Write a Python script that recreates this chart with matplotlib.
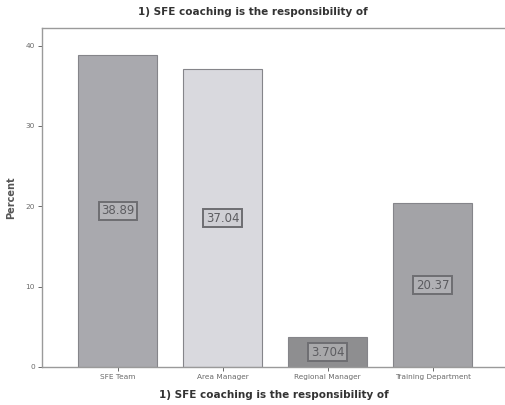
import matplotlib.pyplot as plt

categories = ["SFE Team", "Area Manager", "Regional Manager", "Training Department"]
percent = [38.89, 37.04, 3.704, 20.37]
labels = ["38.89", "37.04", "3.704", "20.37"]
bar_colors = ["#a9a9ae", "#d9d9de", "#8e8e90", "#a3a3a7"]
box_colors = ["#b4b4b8", "#cfcfd4", "#a8a8aa", "#b0b0b4"]

fig = plt.figure(figsize=(5.06, 4.05), dpi=100)
ax = fig.add_axes([0.083, 0.094, 0.915, 0.837])

x = range(len(categories))
ax.bar(x, percent, width=0.76, color=bar_colors, edgecolor="#85858a", linewidth=0.8, zorder=2)

for xi, v, lab, bc in zip(x, percent, labels, box_colors):
    ax.text(xi, v / 2, lab, ha="center", va="center", fontsize=8.5, color="#5c5c60",
            bbox=dict(boxstyle="square,pad=0.2", facecolor=bc, edgecolor="#6e6e72", linewidth=1.4),
            zorder=3)

ax.set_xlim(-0.72, 3.69)
ax.set_ylim(0, 42.2)
ax.set_yticks([0, 10, 20, 30, 40])
ax.set_xticks(list(x))
ax.set_xticklabels(categories)
ax.tick_params(axis="both", labelsize=5.3, colors="#6a6a6a", length=3, width=0.7, pad=2)

for s in ax.spines.values():
    s.set_color("#9a9a9a")
    s.set_linewidth(1.0)
ax.spines["right"].set_visible(False)

ax.set_ylabel("Percent", fontsize=7, fontweight="bold", color="#555555")
ax.yaxis.set_label_coords(-0.056, 0.5)
ax.set_xlabel("1) SFE coaching is the responsibility of", fontsize=7.5, fontweight="bold",
              color="#333333", labelpad=7)
fig.text(0.5, 0.97, "1) SFE coaching is the responsibility of", ha="center", va="center",
         fontsize=7.5, fontweight="bold", color="#333333")

fig.savefig("out.png", dpi=100)
